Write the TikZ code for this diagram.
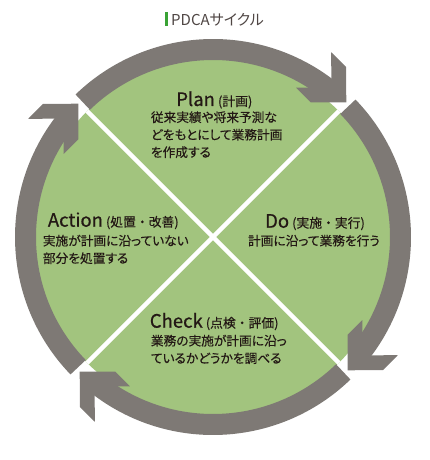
\documentclass[tikz,border=0pt]{standalone}
\usepackage{fontspec}
\setmainfont{Noto Sans CJK JP}[RawFeature=+palt, FakeBold=0.25]
\newfontfamily\jpfull{Noto Sans CJK JP}[FakeBold=0.25]
\newfontfamily\jphead{Noto Sans CJK JP}[FakeBold=0.6]
\newfontfamily\jplight{Noto Sans CJK JP}[RawFeature=+palt]
\usetikzlibrary{positioning}
\definecolor{pdcagreen}{RGB}{162,196,126}
\definecolor{pdcagray}{RGB}{126,121,117}
\definecolor{pdcatext}{RGB}{35,24,21}
\definecolor{pdcabar}{RGB}{58,163,53}
\newcommand\kakko[1]{{\jpfull\fontsize{12.8}{14}\selectfont(#1)}}

\begin{document}
\begin{tikzpicture}[x=1pt, y=1pt,
    ring/.style={draw=pdcagray, line width=21pt},
    head/.style={fill=pdcagray},
    divider/.style={draw=white, line width=4.5pt},
    phase/.style={text=pdcatext, inner sep=0pt, font=\jphead\fontsize{18.5}{20}\selectfont},
    note/.style={text=pdcatext, inner sep=0pt, align=left, font=\fontsize{12.7}{17.5}\selectfont}]

  \useasboundingbox (-213,-223) rectangle (217,237);

  % Title
  \fill[pdcabar] (-48,210.5) rectangle (-45,224.5);
  \node[anchor=base west, inner sep=0pt, text=pdcatext!80, font=\jplight\fontsize{15}{18}\selectfont] (title) at (-42,211.5) {PDCAサイクル};

  % Green disk and dividers
  \fill[pdcagreen] (0,0) circle (178);
  \draw[divider] (45:178) -- (225:178);
  \draw[divider] (135:178) -- (-45:178);

  % Cycle arrows (clockwise)
  \foreach \s/\t in {134/45.3, 44/-44.7, -46/-134.7, 224/135.3}{
    \pgfmathsetmacro\e{\t+5}
    \draw[ring] (\s:187.5) arc[start angle=\s, end angle=\e, radius=187.5];
    \begin{scope}[shift={(\t:189.5)}, rotate=\t-90]
      \fill[head] (0,0) -- (-25,25) -- (-46,25) -- (-21,0) -- (-46,-25) -- (-25,-25) -- cycle;
    \end{scope}
  }

  % Phases (note nodes: base = last line)
  \node[phase, anchor=base] (plan) at (1.3,131) {Plan\,\kakko{計画}};
  \node[note, anchor=base west] (plantext) at (-62.3,80) {従来実績や将来予測な\\どをもとにして業務計画\\を作成する};

  \node[phase, anchor=base] (do) at (102,9.3) {Do\,\kakko{実施・実行}};
  \node[note, anchor=base] (dotext) at (101,-8.5) {計画に沿って業務を行う};

  \node[phase, anchor=base] (check) at (1.2,-90.7) {Check\,\kakko{点検・評価}};
  \node[note, anchor=base west] (checktext) at (-62.3,-126) {業務の実施が計画に沿っ\\ているかどうかを調べる};

  \node[phase, anchor=base] (action) at (-99.7,10.3) {Action\,\kakko{処置・改善}};
  \node[note, anchor=base west] (actiontext) at (-170.3,-26) {実施が計画に沿っていない\\部分を処置する};

\end{tikzpicture}
\end{document}
